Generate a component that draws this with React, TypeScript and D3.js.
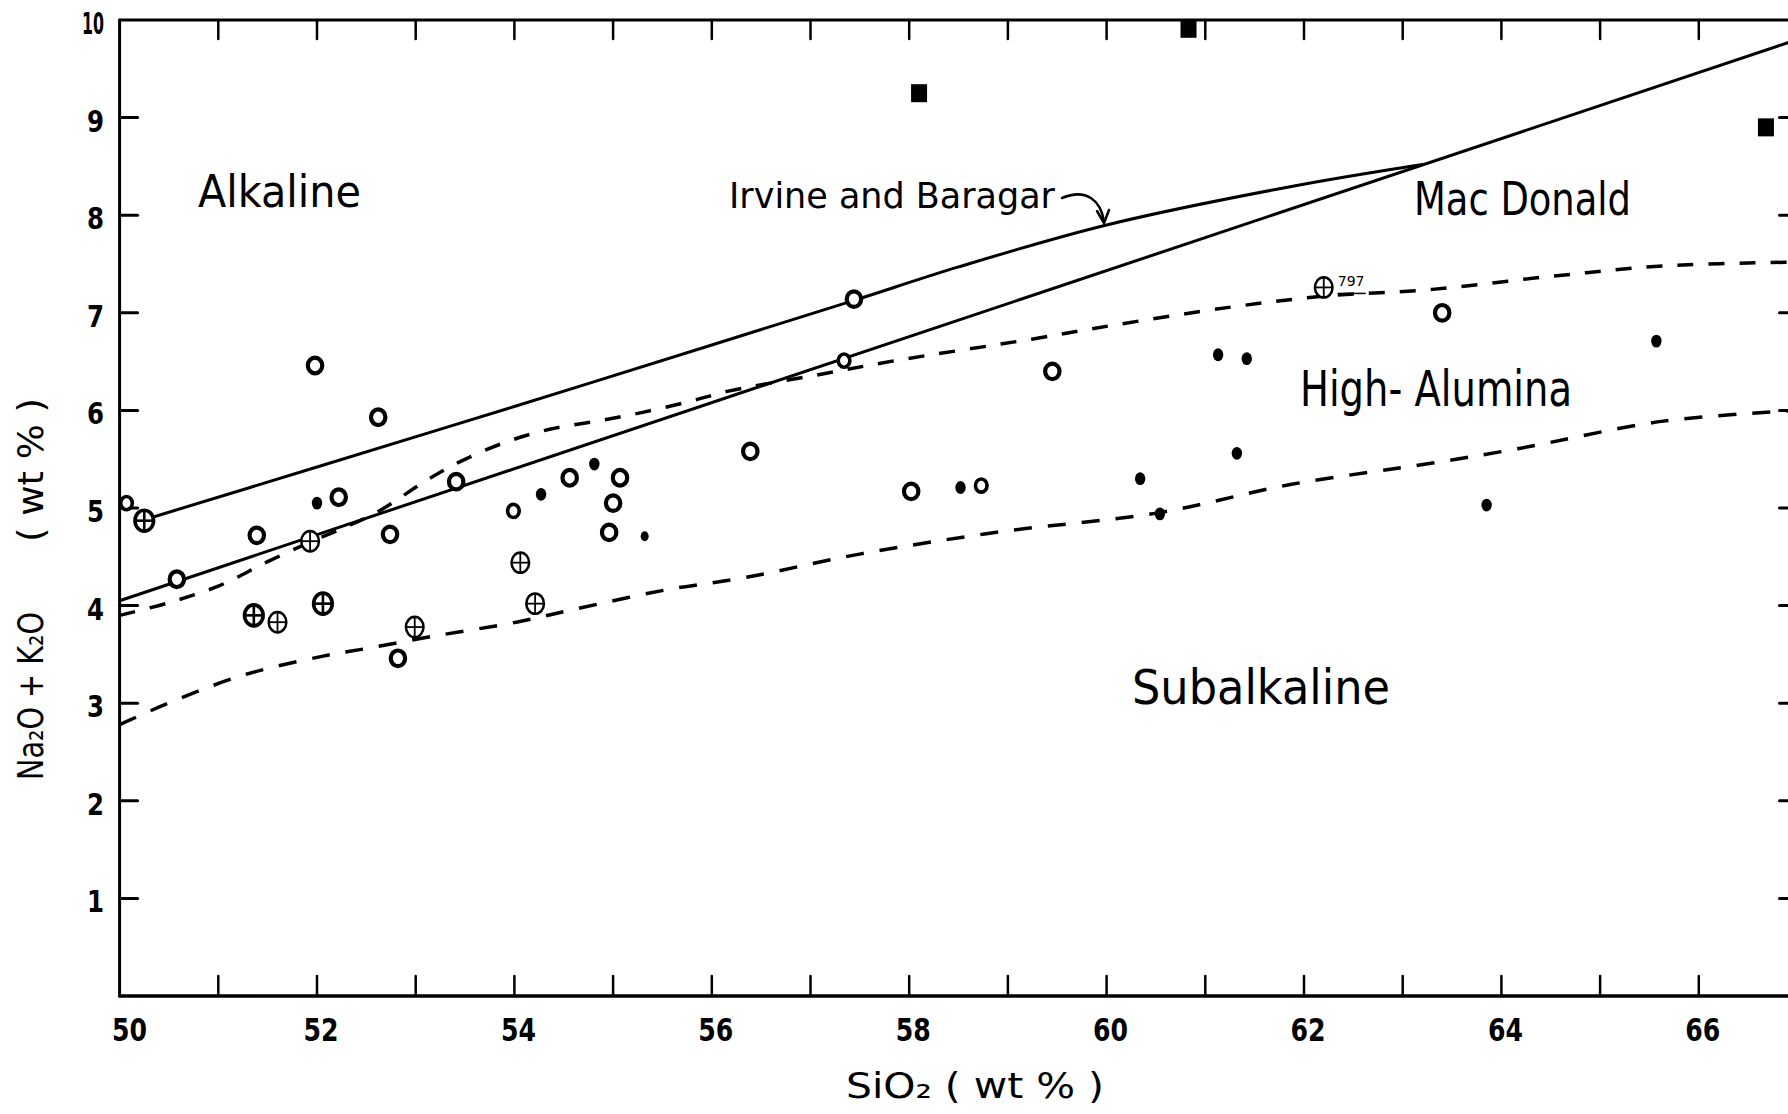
import React from "react";
import * as d3 from "d3";

// ---------- data ----------
const xTickValues = [51, 52, 53, 54, 55, 56, 57, 58, 59, 60, 61, 62, 63, 64, 65, 66];
const xTickLabels = [50, 52, 54, 56, 58, 60, 62, 64, 66];
const yTickValues = [1, 2, 3, 4, 5, 6, 7, 8, 9];
const yTickLabels = [1, 2, 3, 4, 5, 6, 7, 8, 9, 10];

// Irvine and Baragar boundary (solid)
const irvineBaragarLine: [number, number][] = [
  [50.25, 4.88], [52.0, 5.42], [54.0, 6.04], [56.0, 6.67], [57.45, 7.13],
  [58.5, 7.47], [60.0, 7.90], [61.9, 8.30], [63.2, 8.52],
];
// Mac Donald boundary (solid)
const macDonaldLine: [number, number][] = [[50.0, 4.05], [67.0, 9.8]];
// Upper dashed boundary
const upperDashed: [number, number][] = [
  [50.0, 3.9], [50.5, 4.03], [51.0, 4.2], [51.5, 4.45], [51.93, 4.65], [52.3, 4.81],
  [52.63, 4.97], [53.12, 5.29], [53.44, 5.47], [53.9, 5.67], [54.37, 5.81], [54.84, 5.89],
  [55.3, 5.98], [55.77, 6.09], [56.18, 6.2], [57.05, 6.36], [57.86, 6.51], [59.24, 6.73],
  [60.11, 6.88], [61.27, 7.06], [62.2, 7.17], [63.3, 7.24], [64.47, 7.37], [65.64, 7.48], [67.0, 7.52],
];
// Lower dashed boundary
const lowerDashed: [number, number][] = [
  [50.0, 2.78], [50.47, 2.99], [51.23, 3.28], [52.05, 3.48], [52.5, 3.56], [53.2, 3.69],
  [54.02, 3.83], [54.6, 3.96], [55.53, 4.16], [56.35, 4.29], [57.51, 4.53], [58.95, 4.76],
  [60.52, 4.95], [61.86, 5.24], [63.3, 5.46], [64.18, 5.61], [65.64, 5.89], [67.0, 6.0],
];

const openCirclesLarge: [number, number][] = [
  [51.98, 6.46], [52.62, 5.93], [52.22, 5.11], [51.39, 4.72], [52.74, 4.73], [53.41, 5.27],
  [54.56, 5.31], [55.07, 5.31], [55.0, 5.05], [54.96, 4.75], [56.39, 5.58], [57.44, 7.14],
  [50.58, 4.27], [52.82, 3.46], [59.45, 6.40], [63.4, 7.0], [58.02, 5.17],
];
const openCirclesSmall: [number, number][] = [
  [50.07, 5.05], [53.99, 4.97], [57.34, 6.51], [58.73, 5.23],
];
const filledDots: [number, number][] = [
  [52.0, 5.05], [54.27, 5.14], [54.81, 5.45], [58.52, 5.21], [60.34, 5.30],
  [61.32, 5.56], [60.54, 4.94], [63.85, 5.03], [61.13, 6.57], [61.42, 6.53], [65.57, 6.71],
];
const filledDotsSmall: [number, number][] = [[55.32, 4.71]];
const circledPlusBold: [number, number][] = [[50.25, 4.87], [51.36, 3.90], [52.06, 4.02]];
const circledPlusThin: [number, number][] = [
  [51.93, 4.66], [51.6, 3.83], [52.99, 3.78], [54.06, 4.44], [54.21, 4.02], [62.2, 7.26],
];
const filledSquares: [number, number][] = [[58.1, 9.25], [60.83, 9.91], [66.68, 8.9]];

const sampleLabel = { x: 62.2, y: 7.26, text: "797" };

// ---------- layout ----------
const W = 1788;
const H = 1114;
const x = d3.scaleLinear().domain([50, 67]).range([119.6, 1797.5]);
const y = d3.scaleLinear().domain([0, 10]).range([996, 20]);

const line = d3.line<[number, number]>().x((d) => x(d[0])).y((d) => y(d[1]));
const smooth = d3
  .line<[number, number]>()
  .x((d) => x(d[0]))
  .y((d) => y(d[1]))
  .curve(d3.curveCatmullRom.alpha(0.5));

const HAND = "'DejaVu Sans', 'Noto Sans', sans-serif";
const TICKF = "'DejaVu Sans Condensed', 'Liberation Sans Narrow', 'DejaVu Sans', sans-serif";

export default function App() {
  const x0 = x(50);
  const x1 = x(67);
  const y0 = y(0);
  const y1 = y(10);
  return (
    <svg
      width={W}
      height={H}
      viewBox={`0 0 ${W} ${H}`}
      style={{ position: "absolute", left: 0, top: 0, display: "block", background: "#fff" }}
    >
      <rect x={0} y={0} width={W} height={H} fill="#fff" />
      <g stroke="#000" fill="none" strokeLinecap="round">
        {/* frame */}
        <line x1={x0} y1={y1} x2={x0} y2={y0} strokeWidth={3} />
        <line x1={x0} y1={y0} x2={x1} y2={y0} strokeWidth={3.5} />
        <line x1={x0} y1={y1} x2={x1} y2={y1} strokeWidth={3} />
        <line x1={x1} y1={y1} x2={x1} y2={y0} strokeWidth={3} />
        {/* ticks */}
        {xTickValues.map((v) => (
          <g key={"xt" + v}>
            <line x1={x(v)} x2={x(v)} y1={y0} y2={y0 - 20} strokeWidth={2.5} />
            <line x1={x(v)} x2={x(v)} y1={y1} y2={y1 + 19} strokeWidth={2.5} />
          </g>
        ))}
        {yTickValues.map((v) => (
          <g key={"yt" + v}>
            <line x1={x0} x2={x0 + 18} y1={y(v)} y2={y(v)} strokeWidth={3} />
            <line x1={x1} x2={x1 - 18} y1={y(v)} y2={y(v)} strokeWidth={3} />
          </g>
        ))}
        {/* boundaries */}
        <path d={smooth(irvineBaragarLine) || ""} strokeWidth={3} />
        <path d={line(macDonaldLine) || ""} strokeWidth={3} />
        <path d={smooth(upperDashed) || ""} strokeWidth={3.5} strokeDasharray="16 15" strokeLinecap="butt" />
        <path d={smooth(lowerDashed) || ""} strokeWidth={3.5} strokeDasharray="18 16" strokeLinecap="butt" />
        {/* arrow for Irvine and Baragar */}
        <path d="M1062,198 C1086,188 1101,200 1104,222" strokeWidth={2.5} />
        <path d="M1097,211 L1104,223 L1109,210" strokeWidth={2.5} />
      </g>

      {/* points */}
      <g fill="#fff" stroke="#000">
        {openCirclesLarge.map((d, i) => (
          <ellipse key={"ol" + i} cx={x(d[0])} cy={y(d[1])} rx={7.2} ry={7.8} strokeWidth={4.2} />
        ))}
        {openCirclesSmall.map((d, i) => (
          <ellipse key={"os" + i} cx={x(d[0])} cy={y(d[1])} rx={5.8} ry={6.6} strokeWidth={3.6} />
        ))}
        {circledPlusBold.map((d, i) => (
          <g key={"cb" + i}>
            <ellipse cx={x(d[0])} cy={y(d[1])} rx={9.3} ry={10.5} strokeWidth={3.6} />
            <line x1={x(d[0]) - 9.3} x2={x(d[0]) + 9.3} y1={y(d[1])} y2={y(d[1])} strokeWidth={2.6} />
            <line x1={x(d[0])} x2={x(d[0])} y1={y(d[1]) - 10.5} y2={y(d[1]) + 10.5} strokeWidth={2.6} />
          </g>
        ))}
        {circledPlusThin.map((d, i) => (
          <g key={"ct" + i}>
            <ellipse cx={x(d[0])} cy={y(d[1])} rx={8.8} ry={10.2} strokeWidth={2.5} />
            <line x1={x(d[0]) - 8.8} x2={x(d[0]) + 8.8} y1={y(d[1])} y2={y(d[1])} strokeWidth={1.8} />
            <line x1={x(d[0])} x2={x(d[0])} y1={y(d[1]) - 10.2} y2={y(d[1]) + 10.2} strokeWidth={1.8} />
          </g>
        ))}
      </g>
      <g fill="#000">
        {filledDots.map((d, i) => (
          <ellipse key={"fd" + i} cx={x(d[0])} cy={y(d[1])} rx={5.2} ry={6.4} />
        ))}
        {filledDotsSmall.map((d, i) => (
          <ellipse key={"fs" + i} cx={x(d[0])} cy={y(d[1])} rx={4} ry={5} />
        ))}
        {filledSquares.map((d, i) => (
          <rect key={"sq" + i} x={x(d[0]) - 8} y={y(d[1]) - 9} width={16} height={18} />
        ))}
      </g>

      {/* sample label */}
      <text x={x(sampleLabel.x) + 14} y={y(sampleLabel.y) - 1} fontFamily={HAND} fontSize={14}>
        {sampleLabel.text}
      </text>
      <line
        x1={x(sampleLabel.x) + 14}
        x2={x(sampleLabel.x) + 42}
        y1={y(sampleLabel.y) + 6}
        y2={y(sampleLabel.y) + 6}
        stroke="#000"
        strokeWidth={1.5}
      />

      {/* tick labels */}
      <g fontFamily={TICKF} fontWeight="bold" fontSize={32} textAnchor="middle">
        {xTickLabels.map((v) => (
          <text key={"xl" + v} x={x(v) + (v === 50 ? 10 : 4)} y={1041} textLength={35} lengthAdjust="spacingAndGlyphs">
            {v}
          </text>
        ))}
      </g>
      <g fontFamily={TICKF} fontWeight="bold" fontSize={31} textAnchor="end">
        {yTickLabels.map((v) => (
          <text
            key={"yl" + v}
            x={104}
            y={y(v) + 14}
            textLength={v === 10 ? 22 : 17}
            lengthAdjust="spacingAndGlyphs"
          >
            {v}
          </text>
        ))}
      </g>

      {/* axis titles */}
      <text x={975} y={1098} fontFamily={HAND} fontSize={36} textAnchor="middle" textLength={258} lengthAdjust="spacingAndGlyphs">
        SiO₂ ( wt % )
      </text>
      <g transform="translate(43,0) rotate(-90)">
        <text x={-696} y={0} fontFamily={HAND} fontSize={36} textAnchor="middle" textLength={168} lengthAdjust="spacingAndGlyphs">
          Na₂O + K₂O
        </text>
        <text x={-470} y={0} fontFamily={HAND} fontSize={36} textAnchor="middle" textLength={144} lengthAdjust="spacingAndGlyphs">
          ( wt % )
        </text>
      </g>

      {/* region labels */}
      <g fontFamily={HAND} fill="#000">
        <text x={198} y={207} fontSize={44} textLength={163} lengthAdjust="spacingAndGlyphs">Alkaline</text>
        <text x={729} y={208} fontSize={36} textLength={326} lengthAdjust="spacingAndGlyphs">Irvine and Baragar</text>
        <text x={1414} y={215} fontSize={46} textLength={217} lengthAdjust="spacingAndGlyphs">Mac Donald</text>
        <text x={1300} y={406} fontSize={50} textLength={272} lengthAdjust="spacingAndGlyphs">High- Alumina</text>
        <text x={1132} y={704} fontSize={48} textLength={258} lengthAdjust="spacingAndGlyphs">Subalkaline</text>
      </g>
    </svg>
  );
}
